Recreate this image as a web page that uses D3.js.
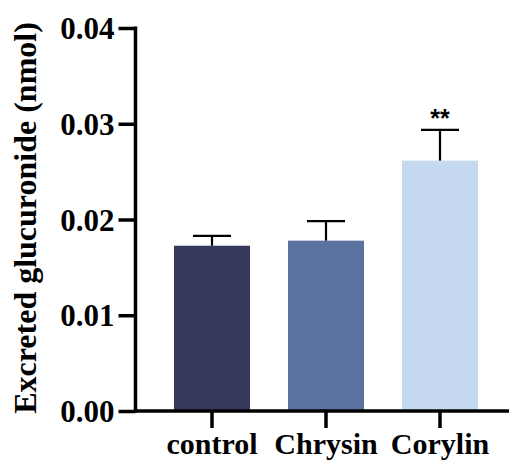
<!DOCTYPE html>
<html>
<head>
<meta charset="utf-8">
<script src="https://cdn.jsdelivr.net/npm/d3@7"></script>
<style>
  html, body { margin: 0; padding: 0; background: #fff; }
  svg { display: block; }
</style>
</head>
<body>
<svg id="chart" width="510" height="464"></svg>
<script>
const categories = ["control", "Chrysin", "Corylin"];
const means = [0.01726, 0.01779, 0.02615];
const errors = [0.00102, 0.00205, 0.00322];
const significance = ["", "", "**"];
const barColors = ["#353a5c", "#5c72a0", "#c5d9f1"];
const yTicks = [0, 0.01, 0.02, 0.03, 0.04];
const yTitle = "Excreted glucuronide (nmol)";

const svg = d3.select("#chart");
const serif = "'Times New Roman', 'Liberation Serif', serif";

const axisX = 135.5;
const x = d3.scaleBand().domain(categories).range([136, 516]).paddingInner(1/3).paddingOuter(1/3);
const y = d3.scaleLinear().domain([0, 0.04]).range([411, 28]);

const data = categories.map((c, i) => ({ c, m: means[i], e: errors[i], s: significance[i], col: barColors[i] }));

// bars
svg.append("g").selectAll("rect").data(data).join("rect")
  .attr("x", d => x(d.c))
  .attr("y", d => y(d.m))
  .attr("width", x.bandwidth())
  .attr("height", d => y(0) - y(d.m))
  .attr("fill", d => d.col);

// error bars
const capW = 38;
const eg = svg.append("g").attr("stroke", "#000").attr("stroke-width", 2.2);
data.forEach(d => {
  const cx = x(d.c) + x.bandwidth() / 2;
  eg.append("line").attr("x1", cx).attr("x2", cx).attr("y1", y(d.m)).attr("y2", y(d.m + d.e));
  eg.append("line").attr("x1", cx - capW / 2).attr("x2", cx + capW / 2).attr("y1", y(d.m + d.e)).attr("y2", y(d.m + d.e));
});

// significance
svg.append("g").selectAll("text").data(data.filter(d => d.s)).join("text")
  .attr("x", d => x(d.c) + x.bandwidth() / 2)
  .attr("y", d => y(d.m + d.e) - 3)
  .attr("text-anchor", "middle")
  .attr("font-family", "Arial, 'Liberation Sans', sans-serif")
  .attr("font-weight", "bold")
  .attr("font-size", 25)
  .attr("fill", "#000")
  .text(d => d.s);

// y axis
const yAxis = svg.append("g")
  .attr("transform", `translate(${axisX},0)`)
  .call(d3.axisLeft(y).tickValues(yTicks).tickFormat(d3.format(".2f")).tickSize(17).tickSizeOuter(0).tickPadding(4));
yAxis.select(".domain").attr("stroke-width", 3.5).attr("d", `M0,${y(0.04) - 1.5}V${y(0) + 1.5}`);
yAxis.selectAll(".tick line").attr("stroke-width", 3.5);
yAxis.selectAll(".tick text")
  .attr("font-family", serif).attr("font-weight", "bold").attr("font-size", 31).attr("fill", "#000")
  .attr("dy", "0.34em");

// x axis
const xAxis = svg.append("g")
  .attr("transform", `translate(0,${y(0)})`)
  .call(d3.axisBottom(x).tickSize(17).tickSizeOuter(0).tickPadding(5));
xAxis.select(".domain").attr("stroke-width", 3.5).attr("d", `M${axisX - 1.5},0H509`);
xAxis.selectAll(".tick line").attr("stroke-width", 3.5);
xAxis.selectAll(".tick text")
  .attr("font-family", serif).attr("font-weight", "bold").attr("font-size", 30).attr("fill", "#000")
  .attr("dy", "0.71em");

// y title
svg.append("text")
  .attr("transform", `translate(35.5,218) rotate(-90)`)
  .attr("text-anchor", "middle")
  .attr("font-family", serif).attr("font-weight", "bold").attr("font-size", 32).attr("fill", "#000")
  .text(yTitle);
</script>
</body>
</html>
